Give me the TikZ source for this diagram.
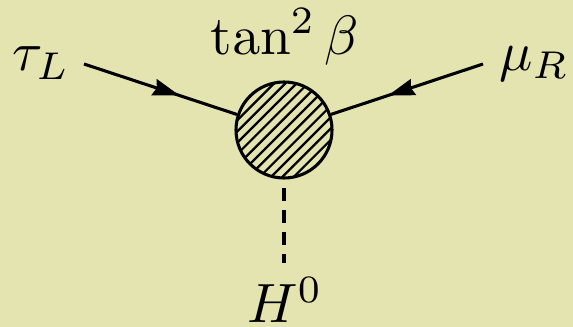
\documentclass[tikz,border=0pt]{standalone}
\usetikzlibrary{arrows.meta,decorations.markings,calc}
\definecolor{bgc}{RGB}{228,228,176}
\tikzset{
  lbl/.style={inner sep=0pt,scale=4.15},
  fermion/.style={line width=2.3pt,postaction={decorate},decoration={markings,mark=at position 0.625 with {\arrow{Stealth[length=20pt,width=12.5pt,inset=2pt]}}}},
  blob/.style={circle,draw,line width=2.3pt,minimum size=72pt,inner sep=0pt,path picture={
    \foreach \i in {-8,...,8} \draw[line width=1.7pt] ($(path picture bounding box.center)+(-60pt+\i*8.49pt,-60pt)$) -- ++(120pt,120pt);}}
}
\begin{document}
\begin{tikzpicture}[x=0.75pt,y=-0.75pt]
\useasboundingbox[fill=bgc] (0,0) rectangle (573,327);
\node[blob] (b) at (284,130) {};
\coordinate (l) at (84,64);
\coordinate (r) at (483,64);
\coordinate (d) at (284,263);
\draw[fermion] (l) -- (b);
\draw[fermion] (r) -- (b);
\draw[line width=2.3pt,dash pattern=on 9.5pt off 7pt,dash phase=10pt] (b) -- (d);
\node[lbl] (tl) at (41,63) {$\tau_L$};
\node[lbl] (mr) at (534,64) {$\mu_R$};
\node[lbl] (tb) at (285,37) {$\tan^2\beta$};
\node[lbl] (h) at (285,300) {$H^0$};
\end{tikzpicture}
\end{document}
